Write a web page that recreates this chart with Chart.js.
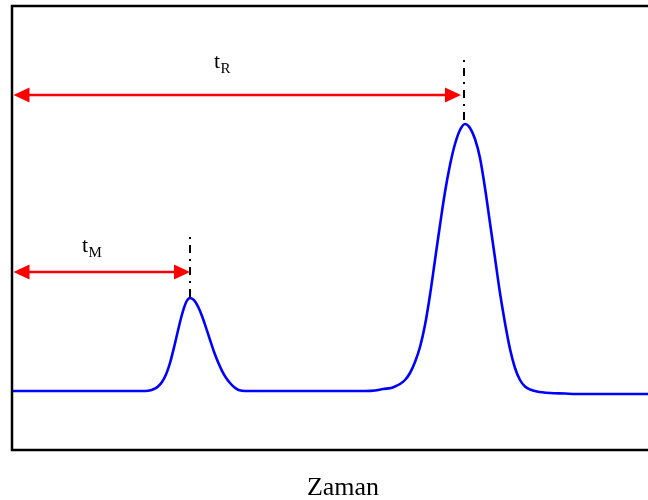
<!DOCTYPE html>
<html>
<head>
<meta charset="utf-8">
<script src="https://cdn.jsdelivr.net/npm/chart.js@4/dist/chart.umd.min.js"></script>
<style>
  html, body { margin: 0; padding: 0; background: #fff; overflow: hidden; }
  #wrap { width: 648px; height: 500px; position: relative; }
</style>
</head>
<body>
<div id="wrap"><canvas id="c" width="648" height="500"></canvas></div>
<script>
// Detector signal (time units, signal units)
const times  = [0, 130, 136, 142, 146, 150, 154, 158, 162, 166, 170, 174, 178, 182, 186, 190, 194, 198,
                202, 206, 210, 214, 218, 222, 226, 230, 236,
                353, 363, 371, 379, 383, 388, 393, 398, 403, 408, 413, 418, 423, 428, 433, 438, 443, 448, 453,
                458, 463, 468, 473, 478, 483, 488, 493, 498, 503, 508, 513, 518, 525, 538, 553, 563, 636];
const signal = [59, 59, 59.2, 61, 63.5, 68, 75.5, 87, 102.5, 119.5, 135.5, 147.5, 152, 149.8, 143.5, 134, 122.4, 110.2,
                98.3, 87.9, 79.2, 72.2, 67, 63, 60.3, 59.3, 59,
                59, 59.5, 61, 62, 63.5, 66, 70, 77, 88, 103, 125, 155, 190, 225, 258, 285, 306, 320, 326,
                322, 311, 292, 262, 227, 192, 157, 127, 101, 82, 70, 63.5, 60.5, 58.5, 57, 56.5, 56, 56];

// Retention-time markers
const markerNames   = ['M', 'R'];
const markerTimes   = [178, 452];   // time of peak maximum (dash-dot line)
const markerLow     = [153, 330];   // bottom of dash-dot line (signal units)
const markerHigh    = [215, 391];   // top of dash-dot line
const arrowStart    = [1.5, 1.5];
const arrowEnd      = [178, 449];
const arrowLevel    = [178, 355];
const labelTime     = [70, 202];
const labelLevel    = [198, 382];
const axisTitle     = 'Zaman';

const annotate = {
  id: 'annotate',
  afterDatasetsDraw(chart) {
    const {ctx, chartArea: a, scales: {x, y}} = chart;
    ctx.save();
    // frame (left, top, bottom; right side is outside the picture)
    ctx.strokeStyle = '#000';
    ctx.lineWidth = 2.5;
    ctx.beginPath();
    ctx.moveTo(a.right + 2, a.top);
    ctx.lineTo(a.left, a.top);
    ctx.lineTo(a.left, a.bottom);
    ctx.lineTo(a.right + 2, a.bottom);
    ctx.stroke();

    for (let i = 0; i < markerTimes.length; i++) {
      // dash-dot marker
      const mx = Math.round(x.getPixelForValue(markerTimes[i]));
      ctx.strokeStyle = '#000';
      ctx.lineWidth = 2;
      ctx.setLineDash([8, 6, 2, 6]);
      ctx.beginPath();
      ctx.moveTo(mx, y.getPixelForValue(markerLow[i]));
      ctx.lineTo(mx, y.getPixelForValue(markerHigh[i]));
      ctx.stroke();
      ctx.setLineDash([]);

      // double arrow
      const x0 = x.getPixelForValue(arrowStart[i]);
      const x1 = x.getPixelForValue(arrowEnd[i]);
      const ay = Math.round(y.getPixelForValue(arrowLevel[i]));
      const hl = 16, hw = 7.5;
      ctx.strokeStyle = '#ff0000';
      ctx.fillStyle = '#ff0000';
      ctx.lineWidth = 2.6;
      ctx.beginPath();
      ctx.moveTo(x0 + hl - 2, ay);
      ctx.lineTo(x1 - hl + 2, ay);
      ctx.stroke();
      ctx.beginPath();
      ctx.moveTo(x0, ay); ctx.lineTo(x0 + hl, ay - hw); ctx.lineTo(x0 + hl, ay + hw); ctx.closePath();
      ctx.fill();
      ctx.beginPath();
      ctx.moveTo(x1, ay); ctx.lineTo(x1 - hl, ay - hw); ctx.lineTo(x1 - hl, ay + hw); ctx.closePath();
      ctx.fill();

      // label t with subscript
      const lx = x.getPixelForValue(labelTime[i]);
      const ly = y.getPixelForValue(labelLevel[i]);
      ctx.fillStyle = '#000';
      ctx.textBaseline = 'alphabetic';
      ctx.textAlign = 'left';
      ctx.font = '22px "Liberation Serif", "Times New Roman", serif';
      ctx.fillText('t', lx, ly);
      const tw = ctx.measureText('t').width;
      ctx.font = '15px "Liberation Serif", "Times New Roman", serif';
      ctx.fillText(markerNames[i], lx + tw + 0.5, ly + 4.5);
    }

    // axis title (frame continues past the right edge, so centre is offset)
    ctx.fillStyle = '#000';
    ctx.textAlign = 'center';
    ctx.textBaseline = 'alphabetic';
    ctx.font = '26px "Liberation Serif", "Times New Roman", serif';
    ctx.fillText(axisTitle, x.getPixelForValue(331), a.bottom + 45);
    ctx.restore();
  }
};

new Chart(document.getElementById('c'), {
  type: 'line',
  data: {
    datasets: [{
      data: times.map((t, i) => ({x: t, y: signal[i]})),
      borderColor: '#0000ff',
      borderWidth: 2.6,
      pointRadius: 0,
      cubicInterpolationMode: 'monotone',
      fill: false
    }]
  },
  options: {
    responsive: false,
    animation: false,
    devicePixelRatio: 1,
    layout: { padding: { left: 12, top: 6, right: 0, bottom: 50 } },
    plugins: { legend: { display: false }, tooltip: { enabled: false } },
    scales: {
      x: { type: 'linear', min: 0, max: 636, display: false },
      y: { type: 'linear', min: 0, max: 444, display: false }
    }
  },
  plugins: [annotate]
});
</script>
</body>
</html>
